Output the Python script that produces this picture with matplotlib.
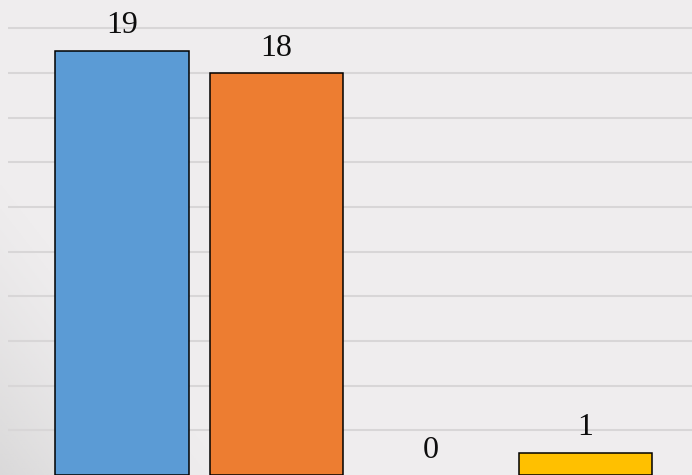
import numpy as np
import matplotlib.pyplot as plt

categories = ['A', 'B', 'C', 'D']
values = [19, 18, 0, 1]
colors = ['#5b9bd5', '#ed7d31', '#a5a5a5', '#ffc000']

fig = plt.figure(figsize=(6.92, 4.75), dpi=100)
fig.patch.set_facecolor('#efedee')

# subtle shaded background at the lower left
bg = fig.add_axes([0, 0, 1, 1], zorder=0)
yy, xx = np.mgrid[0:1:200j, 0:1:300j]
shade = np.clip(1 - (xx * 3.0 + yy * 1.6), 0, 1) ** 1.3
rgba = np.zeros((200, 300, 4))
rgba[..., :3] = 0.80
rgba[..., 3] = shade * 0.6
bg.imshow(rgba, extent=[0, 1, 0, 1], origin='lower', aspect='auto')
bg.axis('off')

ax = fig.add_axes([8 / 692, 0, 684 / 692, 1], zorder=1)
ax.patch.set_alpha(0)

x = np.arange(len(categories))
bars = ax.bar(x, values, width=0.865, color=colors, edgecolor='black', linewidth=1.1, zorder=3)
for b, v in zip(bars, values):
    if v == 0:
        b.set_linewidth(0)

for b, v in zip(bars, values):
    ax.annotate(str(v), (b.get_x() + b.get_width() / 2, v), xytext=(0, 7.5),
                textcoords='offset points', ha='center', va='bottom',
                fontsize=23, family='Liberation Serif', color='#0d0d0d')

ax.set_xlim(-0.74, 3.69)
ax.set_ylim(0, 21.27)
ax.set_yticks(range(2, 21, 2))
ax.yaxis.grid(True, color='#d8d6d7', linewidth=1.5, zorder=0)
ax.tick_params(left=False, bottom=False, labelleft=False, labelbottom=False)
for s in ax.spines.values():
    s.set_visible(False)

fig.savefig('out.png', dpi=100, facecolor=fig.get_facecolor())
